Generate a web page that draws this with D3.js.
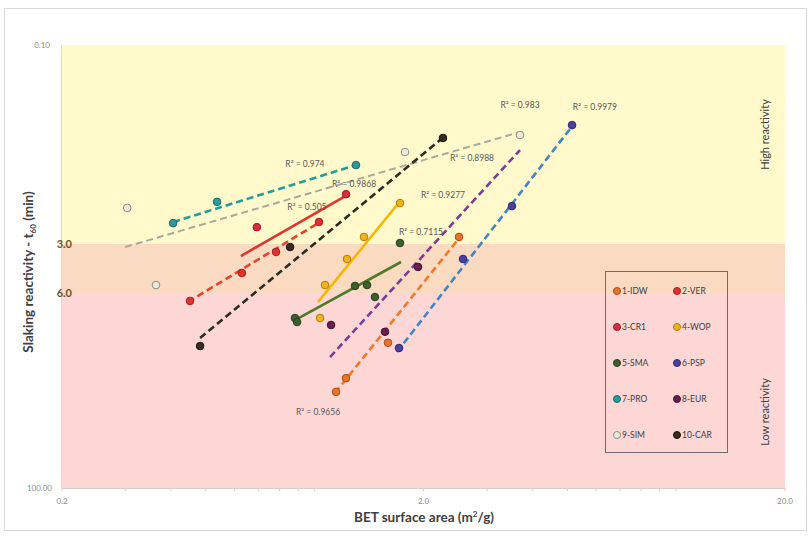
<!DOCTYPE html>
<html>
<head>
<meta charset="utf-8">
<script src="https://cdn.jsdelivr.net/npm/d3@7/dist/d3.min.js"></script>
<style>
  html, body { margin: 0; padding: 0; background: #ffffff; }
  svg { display: block; font-family: "Lato", "Open Sans", sans-serif; }
</style>
</head>
<body>
<svg id="chart" width="811" height="538"></svg>
<script>
// ---- axis ticks and reactivity thresholds ----
const xTickValues = [0.2, 2, 20];
const xTickLabels = ["0.2", "2.0", "20.0"];
const yTickValues = [0.1, 100];
const yTickLabels = ["0.10", "100.00"];
const bandLimits = [3, 6];
const bandLabels = ["3.0", "6.0"];

// ---- samples: BET surface area (m2/g) and slaking time t60 (min) ----
const seriesNames = ["1-IDW", "2-VER", "3-CR1", "4-WOP", "5-SMA", "6-PSP", "7-PRO", "8-EUR", "9-SIM", "10-CAR"];

const idwBET = [1.146, 1.221, 1.595, 2.508];
const idwT60 = [25.0, 20.5, 12.3, 2.66];
const verBET = [0.452, 0.629, 0.782, 1.028];
const verT60 = [6.73, 4.52, 3.36, 2.06];
const cr1BET = [0.692, 1.221];
const cr1T60 = [2.25, 1.28];
const wopBET = [1.035, 1.068, 1.229, 1.369, 1.722];
const wopT60 = [8.61, 5.36, 3.71, 2.66, 1.49];
const smaBET = [0.882, 0.894, 1.293, 1.396, 1.468, 1.722];
const smaT60 = [8.61, 9.12, 5.43, 5.36, 6.36, 2.95];
const pspBET = [1.711, 2.573, 3.514, 5.152];
const pspT60 = [13.27, 3.71, 1.57, 0.393];
const proBET = [0.406, 0.537, 1.301];
const proT60 = [2.10, 1.46, 0.778];
const eurBET = [1.110, 1.565, 1.931];
const eurT60 = [9.52, 10.5, 4.15];
const simBET = [0.303, 0.364, 1.778, 3.698];
const simT60 = [1.62, 5.36, 0.623, 0.466];
const carBET = [0.482, 0.855, 2.264];
const carT60 = [12.9, 3.13, 0.490];

// power-law trend lines: [BET, t60] at both ends, one per sample
const trendFrom = [[1.138, 25.4], [0.446, 6.83], [0.625, 3.556], [1.022, 6.83], [0.882, 8.86],
                   [1.689, 14.05], [0.406, 2.061], [1.103, 15.11], [0.299, 3.130], [0.482, 11.49]];
const trendTo   = [[2.524, 2.664], [1.035, 2.061], [1.229, 1.299], [1.733, 1.415], [1.733, 3.87],
                   [5.184, 0.393], [1.301, 0.778], [3.698, 0.602], [3.698, 0.442], [2.294, 0.474]];

// coefficient of determination labels and their anchors [BET, t60]
const r2Text = ["R² = 0.974", "R² = 0.9868", "R² = 0.505", "R² = 0.983", "R² = 0.9979",
                "R² = 0.8988", "R² = 0.9277", "R² = 0.7115", "R² = 0.9656"];
const r2At = [[0.940, 0.765], [1.285, 1.076], [0.952, 1.595], [3.698, 0.279], [5.96, 0.289],
              [2.724, 0.690], [2.264, 1.299], [1.968, 2.446], [1.022, 33.4]];

// ---- styling ----
const markerFill   = ["#e8732a", "#e0312e", "#da2c40", "#f3b21b", "#3f5e2e", "#4b3f9f", "#2a9c9c", "#6a1f4f", "#eeeadf", "#3a2a1c"];
const markerStroke = ["#a84d14", "#a51f1f", "#9e1a2a", "#b07f00", "#2a3f1e", "#2e2670", "#1a6a6a", "#40102f", "#8d8d82", "#1a120a"];
const lineColor    = ["#f07a2a", "#e8412c", "#e0352a", "#f5b700", "#4f7a28", "#3f86c6", "#1f9e9e", "#7d3c98", "#aaa99e", "#2b2b20"];
const lineDashed   = [true, true, false, false, false, true, true, true, true, true];

const sampleBET = [idwBET, verBET, cr1BET, wopBET, smaBET, pspBET, proBET, eurBET, simBET, carBET];
const sampleT60 = [idwT60, verT60, cr1T60, wopT60, smaT60, pspT60, proT60, eurT60, simT60, carT60];

const svg = d3.select("#chart");
const plot = { left: 62, right: 785, top: 45, bottom: 488 };

const x = d3.scaleLog().domain([0.2, 20]).range([plot.left, plot.right]);
// piecewise log axis so the reactivity thresholds sit on their bands
const y = d3.scaleLog().domain([0.1, 3, 6, 100]).range([plot.top, 244, 293, plot.bottom]);

// outer frame
svg.append("rect").attr("x", 4.5).attr("y", 8.5).attr("width", 802).attr("height", 522)
  .attr("fill", "#ffffff").attr("stroke", "#d9d9d9");

// reactivity bands
const bands = [[0.1, 3, "#fff9cc"], [3, 6, "#fbdac2"], [6, 100, "#fdd6d6"]];
svg.append("g").selectAll("rect").data(bands).join("rect")
  .attr("x", plot.left).attr("width", plot.right - plot.left)
  .attr("y", d => y(d[0])).attr("height", d => y(d[1]) - y(d[0]))
  .attr("fill", d => d[2]);

// axis lines
svg.append("line").attr("x1", plot.left).attr("x2", plot.right)
  .attr("y1", plot.bottom + 0.5).attr("y2", plot.bottom + 0.5).attr("stroke", "#d0d0d0");
svg.append("line").attr("x1", plot.left - 0.5).attr("x2", plot.left - 0.5)
  .attr("y1", plot.top).attr("y2", plot.bottom).attr("stroke", "#d8d8d8");

// x minor ticks
svg.append("g").selectAll("line").data(x.ticks()).join("line")
  .attr("x1", d => x(d)).attr("x2", d => x(d))
  .attr("y1", plot.bottom).attr("y2", plot.bottom + 3)
  .attr("stroke", "#cfcfcf");

// x tick labels
svg.append("g").selectAll("text").data(xTickValues).join("text")
  .attr("x", d => x(d)).attr("y", plot.bottom + 16)
  .attr("text-anchor", "middle").attr("font-size", 8).attr("fill", "#8c8c8c")
  .text((d, i) => xTickLabels[i]);

// y tick labels
svg.append("g").selectAll("text").data(yTickValues).join("text")
  .attr("x", (d, i) => i === 0 ? 50 : 52).attr("y", d => y(d) + 3)
  .attr("text-anchor", "end").attr("font-size", 8).attr("fill", "#8c8c8c")
  .text((d, i) => yTickLabels[i]);
svg.append("g").selectAll("text").data(bandLimits).join("text")
  .attr("x", 72).attr("y", d => y(d) + 4)
  .attr("text-anchor", "end").attr("font-size", 11).attr("font-weight", "bold")
  .attr("fill", "#6b5426")
  .text((d, i) => bandLabels[i]);

// axis titles
const xTitle = svg.append("text").attr("x", 424).attr("y", 522)
  .attr("text-anchor", "middle").attr("font-size", 13.5).attr("font-weight", "bold").attr("fill", "#404040");
xTitle.append("tspan").text("BET surface area (m");
xTitle.append("tspan").attr("font-size", 8).attr("dy", -5).text("2");
xTitle.append("tspan").attr("dy", 5).text("/g)");

const yTitle = svg.append("text").attr("transform", "translate(33,272) rotate(-90)")
  .attr("text-anchor", "middle").attr("font-size", 13.5).attr("font-weight", "bold").attr("fill", "#404040");
yTitle.append("tspan").text("Slaking reactivity - t");
yTitle.append("tspan").attr("font-size", 8).attr("dy", 3).text("60");
yTitle.append("tspan").attr("dy", -3).text(" (min)");

// band names
svg.append("text").attr("transform", `translate(769,${(y(0.1) + y(3)) / 2 - 10}) rotate(-90)`)
  .attr("text-anchor", "middle").attr("font-size", 11).attr("fill", "#404040").text("High reactivity");
svg.append("text").attr("transform", "translate(769,412) rotate(-90)")
  .attr("text-anchor", "middle").attr("font-size", 11).attr("fill", "#404040").text("Low reactivity");

// trend lines
const gTrend = svg.append("g");
seriesNames.forEach((name, i) => {
  gTrend.append("line")
    .attr("x1", x(trendFrom[i][0])).attr("y1", y(trendFrom[i][1]))
    .attr("x2", x(trendTo[i][0])).attr("y2", y(trendTo[i][1]))
    .attr("stroke", lineColor[i])
    .attr("stroke-width", i === 8 ? 2 : 2.6)
    .attr("stroke-dasharray", lineDashed[i] ? "7,4" : null);
});

// sample markers
const gPts = svg.append("g");
seriesNames.forEach((name, i) => {
  gPts.append("g").selectAll("circle")
    .data(d3.zip(sampleBET[i], sampleT60[i])).join("circle")
    .attr("cx", d => x(d[0])).attr("cy", d => y(d[1])).attr("r", 3.8)
    .attr("fill", markerFill[i]).attr("stroke", markerStroke[i]).attr("stroke-width", 1);
});

// R² labels
svg.append("g").selectAll("text").data(r2Text).join("text")
  .attr("x", (d, i) => x(r2At[i][0])).attr("y", (d, i) => y(r2At[i][1]) + 3)
  .attr("text-anchor", "middle").attr("font-size", 8.5).attr("fill", "#595959")
  .text(d => d);

// legend
const lg = svg.append("g");
lg.append("rect").attr("x", 605.5).attr("y", 271.5).attr("width", 122).attr("height", 181)
  .attr("fill", "none").attr("stroke", "#6d6d6d").attr("stroke-width", 1);
seriesNames.forEach((name, i) => {
  const cx = 617 + (i % 2) * 60;
  const cy = 291 + Math.floor(i / 2) * 36;
  lg.append("circle").attr("cx", cx).attr("cy", cy).attr("r", 3.5)
    .attr("fill", markerFill[i]).attr("stroke", markerStroke[i]);
  lg.append("text").attr("x", cx + 5).attr("y", cy + 3)
    .attr("font-size", 8.5).attr("fill", "#404040").text(name);
});
</script>
</body>
</html>
